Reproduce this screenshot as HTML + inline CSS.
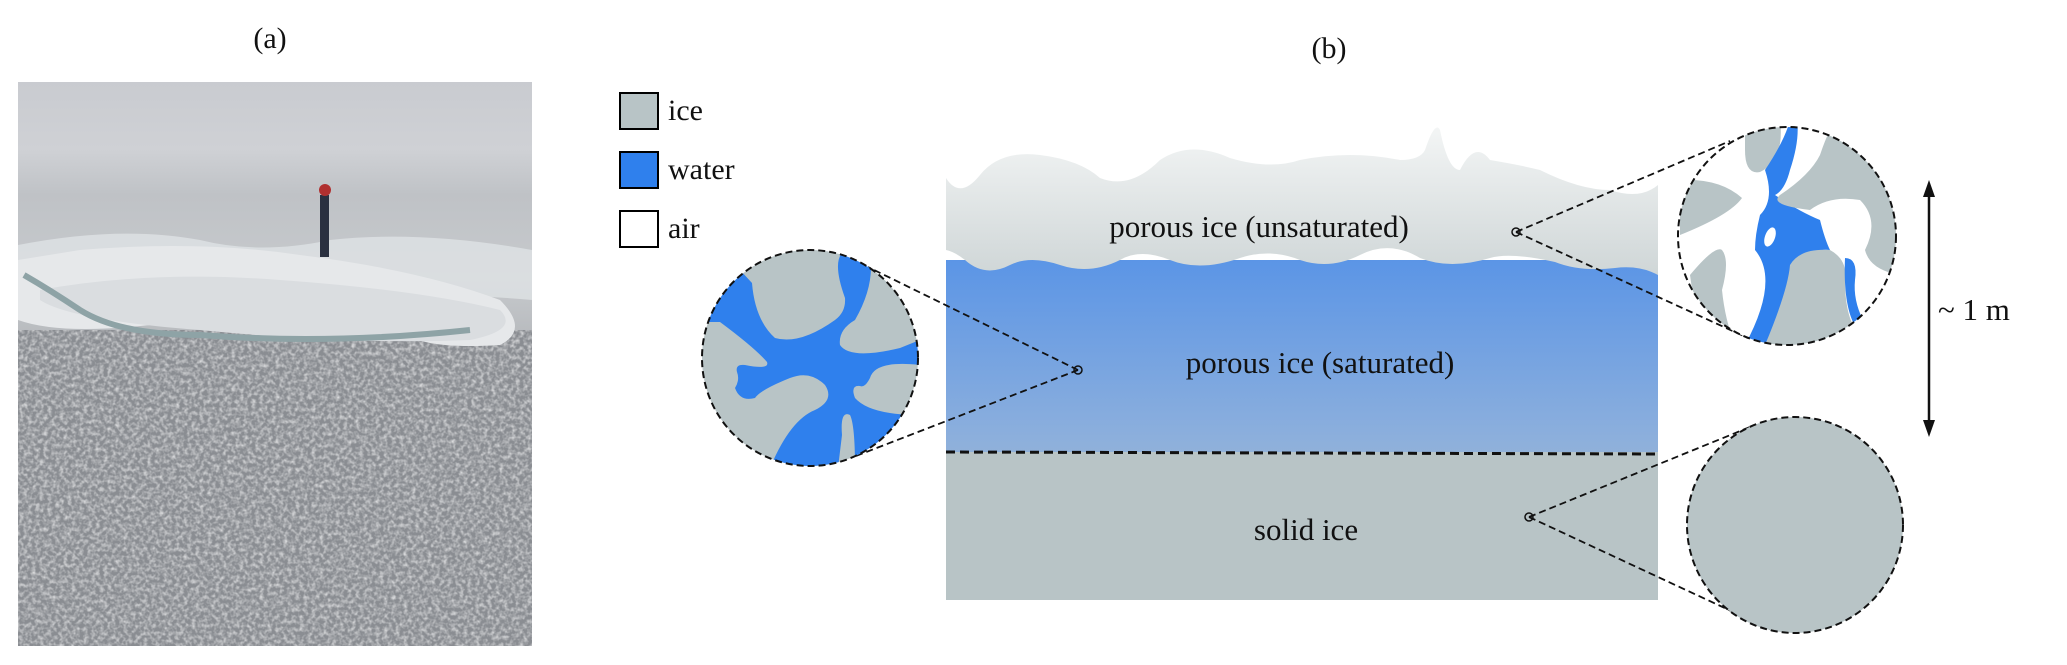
<!DOCTYPE html>
<html><head><meta charset="utf-8"><style>
html,body{margin:0;padding:0;background:#fff;}
svg{display:block;}
text{font-family:"Liberation Serif",serif;fill:#111;}
</style></head><body>
<svg width="2067" height="665" viewBox="0 0 2067 665" xmlns="http://www.w3.org/2000/svg">
<defs>
<linearGradient id="sky" x1="0" y1="0" x2="0" y2="1">
<stop offset="0" stop-color="#c9cbd0"/><stop offset="0.12" stop-color="#cfd1d5"/>
<stop offset="0.2" stop-color="#bfc2c6"/><stop offset="0.35" stop-color="#c7cacd"/>
<stop offset="0.5" stop-color="#b0b3b7"/><stop offset="0.7" stop-color="#a0a3a8"/>
<stop offset="1" stop-color="#a3a5a9"/></linearGradient>
<linearGradient id="top" x1="0" y1="0" x2="0" y2="1">
<stop offset="0" stop-color="#f3f5f5"/><stop offset="1" stop-color="#cfd6d7"/></linearGradient>
<linearGradient id="wat" x1="0" y1="0" x2="0" y2="1">
<stop offset="0" stop-color="#5b95e6"/><stop offset="0.5" stop-color="#8aaedd"/>
<stop offset="1" stop-color="#b8c4c6"/></linearGradient>
<clipPath id="cL"><circle cx="810" cy="358" r="108"/></clipPath>
<clipPath id="cR"><circle cx="1787" cy="236" r="109"/></clipPath>
<clipPath id="ph"><rect x="18" y="82" width="514" height="564"/></clipPath>
<filter id="noise" x="0" y="0" width="1" height="1">
<feTurbulence type="fractalNoise" baseFrequency="0.25" numOctaves="2" seed="3"/>
<feColorMatrix type="matrix" values="0 0 0 0 1  0 0 0 0 1  0 0 0 0 1  0 0 0 1.6 -0.6"/>
</filter>
</defs>

<text x="270" y="48" font-size="30" text-anchor="middle">(a)</text>
<text x="1329" y="58" font-size="30" text-anchor="middle">(b)</text>

<!-- photo -->
<g clip-path="url(#ph)">
<rect x="18" y="82" width="514" height="564" fill="url(#sky)"/>
<rect x="18" y="330" width="514" height="316" fill="#8a8d92"/>
<rect x="18" y="330" width="514" height="316" filter="url(#noise)" opacity="0.8"/>
<path d="M18 245 Q120 225 200 240 Q260 255 330 240 Q420 230 532 250 L532 300 Q420 290 300 300 Q200 305 18 290Z" fill="#dfe2e5" opacity="0.8"/>
<path d="M18 260 L80 250 Q200 240 300 255 Q420 270 500 300 Q530 330 500 345 Q420 350 400 330 Q300 320 150 325 Q60 335 18 320Z" fill="#e6e8ea"/>
<path d="M40 290 Q150 270 280 280 Q420 290 500 310 Q520 330 470 340 Q350 345 200 330 Q70 320 40 300Z" fill="#dadde0"/>
<path d="M24 275 Q50 290 80 310 Q120 335 200 335 Q330 345 470 330" stroke="#8ea3a6" stroke-width="6" fill="none"/>
<rect x="320" y="195" width="9" height="62" fill="#2a3040"/>
<circle cx="325" cy="190" r="6" fill="#b03030"/>
</g>

<!-- legend -->
<rect x="620" y="93" width="38" height="36" fill="#b8c4c6" stroke="#000" stroke-width="2"/>
<rect x="620" y="152" width="38" height="36" fill="#2f80ed" stroke="#000" stroke-width="2"/>
<rect x="620" y="211" width="38" height="36" fill="#fff" stroke="#000" stroke-width="2"/>
<text x="668" y="120" font-size="30">ice</text>
<text x="668" y="179" font-size="30">water</text>
<text x="668" y="238" font-size="30">air</text>

<!-- main block -->
<rect x="946" y="260" width="712" height="340" fill="url(#wat)"/>
<rect x="946" y="452" width="712" height="148" fill="#b8c4c6"/>
<path d="M946 178 Q960 200 980 175 Q1000 150 1040 155 Q1080 160 1100 178 Q1130 190 1160 160 Q1190 140 1230 158 Q1270 170 1300 160 Q1350 150 1400 160 Q1420 160 1425 150 Q1435 120 1440 130 Q1448 170 1460 170 Q1475 140 1490 160 Q1520 165 1540 170 Q1580 190 1610 190 Q1640 200 1658 185 L1658 275 Q1640 265 1615 268 Q1580 272 1555 262 Q1510 252 1490 258 Q1450 270 1420 258 Q1390 240 1360 255 Q1330 270 1300 260 Q1270 248 1240 258 Q1200 272 1170 260 Q1140 248 1120 260 Q1090 275 1060 265 Q1030 255 1010 265 Q985 278 965 260 Q955 252 946 250 Z" fill="url(#top)"/>
<line x1="946" y1="452" x2="1658" y2="454" stroke="#111" stroke-width="3" stroke-dasharray="9,5"/>
<text x="1259" y="237" font-size="31" text-anchor="middle">porous ice (unsaturated)</text>
<text x="1320" y="373" font-size="31" text-anchor="middle">porous ice (saturated)</text>
<text x="1306" y="540" font-size="31" text-anchor="middle">solid ice</text>

<!-- connectors -->
<g stroke="#111" stroke-width="1.8" stroke-dasharray="7,4" fill="none">
<line x1="1078" y1="370" x2="868" y2="267"/><line x1="1078" y1="370" x2="856" y2="456"/>
<line x1="1516" y1="232" x2="1730" y2="141"/><line x1="1516" y1="232" x2="1748" y2="338"/>
<line x1="1529" y1="517" x2="1750" y2="427"/><line x1="1529" y1="517" x2="1772" y2="630"/>
</g>
<g fill="none" stroke="#111" stroke-width="1.5">
<circle cx="1078" cy="370" r="4"/><circle cx="1516" cy="232" r="4"/><circle cx="1529" cy="517" r="4"/>
</g>

<!-- left zoom -->
<g clip-path="url(#cL)">
<rect x="700" y="248" width="220" height="220" fill="#b8c4c6"/>
<path d="M740 270 L752 283 Q755 320 775 338 Q800 345 835 320 Q846 312 845 298 Q832 262 843 252 L870 255 Q875 285 855 320 Q838 330 840 345 Q850 360 900 348 L920 340 L920 365 Q875 360 870 378 Q865 388 860 386 Q850 385 855 398 Q870 415 920 415 L920 468 L855 468 Q855 425 850 415 Q840 410 842 435 L838 468 L770 468 Q790 420 815 410 Q835 400 825 385 Q810 370 790 378 Q760 390 755 398 Q740 402 735 388 Q740 380 737 372 Q735 364 745 365 Q770 370 767 362 Q755 348 720 322 L700 322 L700 270Z" fill="#2f80ed"/>
</g>
<circle cx="810" cy="358" r="108" fill="none" stroke="#111" stroke-width="2" stroke-dasharray="7,4"/>

<!-- top right zoom -->
<g clip-path="url(#cR)">
<rect x="1670" y="120" width="240" height="240" fill="#fff"/>
<path d="M1745 120 L1780 120 Q1785 160 1760 172 Q1745 175 1745 150Z" fill="#b8c4c6"/>
<path d="M1790 120 L1797 120 Q1800 140 1790 170 Q1785 190 1775 195 Q1800 212 1820 220 Q1825 240 1830 250 Q1810 248 1795 265 Q1790 300 1765 345 L1745 345 Q1780 280 1755 250 Q1755 235 1760 215 Q1775 200 1765 170 Q1785 140 1790 120Z" fill="#2f80ed"/>
<path d="M1830 130 Q1890 150 1900 200 L1900 275 Q1870 270 1865 250 Q1880 220 1860 200 Q1830 195 1810 210 Q1768 205 1780 195 Q1810 175 1820 155 Q1825 140 1830 130Z" fill="#b8c4c6"/>
<path d="M1680 180 Q1720 178 1742 198 Q1730 215 1680 235Z" fill="#b8c4c6"/>
<path d="M1690 275 Q1715 245 1722 250 Q1730 260 1722 290 Q1725 320 1735 345 L1700 345Z" fill="#b8c4c6"/>
<path d="M1765 345 Q1788 290 1790 265 Q1800 248 1830 250 Q1848 260 1845 280 Q1845 320 1860 335 L1860 360 L1765 360Z" fill="#b8c4c6"/>
<path d="M1845 258 Q1858 258 1855 280 Q1853 300 1863 320 L1855 326 Q1843 305 1845 258Z" fill="#2f80ed"/>
<ellipse cx="1770" cy="237" rx="5" ry="10" fill="#fff" transform="rotate(20 1770 237)"/>
</g>
<circle cx="1787" cy="236" r="109" fill="none" stroke="#111" stroke-width="2" stroke-dasharray="7,4"/>

<!-- bottom right zoom -->
<circle cx="1795" cy="525" r="108" fill="#b8c4c6" stroke="#111" stroke-width="2" stroke-dasharray="7,4"/>

<!-- arrow -->
<line x1="1929" y1="192" x2="1929" y2="425" stroke="#111" stroke-width="2.5"/>
<path d="M1929 180 L1923 197 L1935 197Z" fill="#111"/>
<path d="M1929 437 L1923 420 L1935 420Z" fill="#111"/>
<text x="1938" y="320" font-size="31">~ 1 m</text>
</svg>
</body></html>
